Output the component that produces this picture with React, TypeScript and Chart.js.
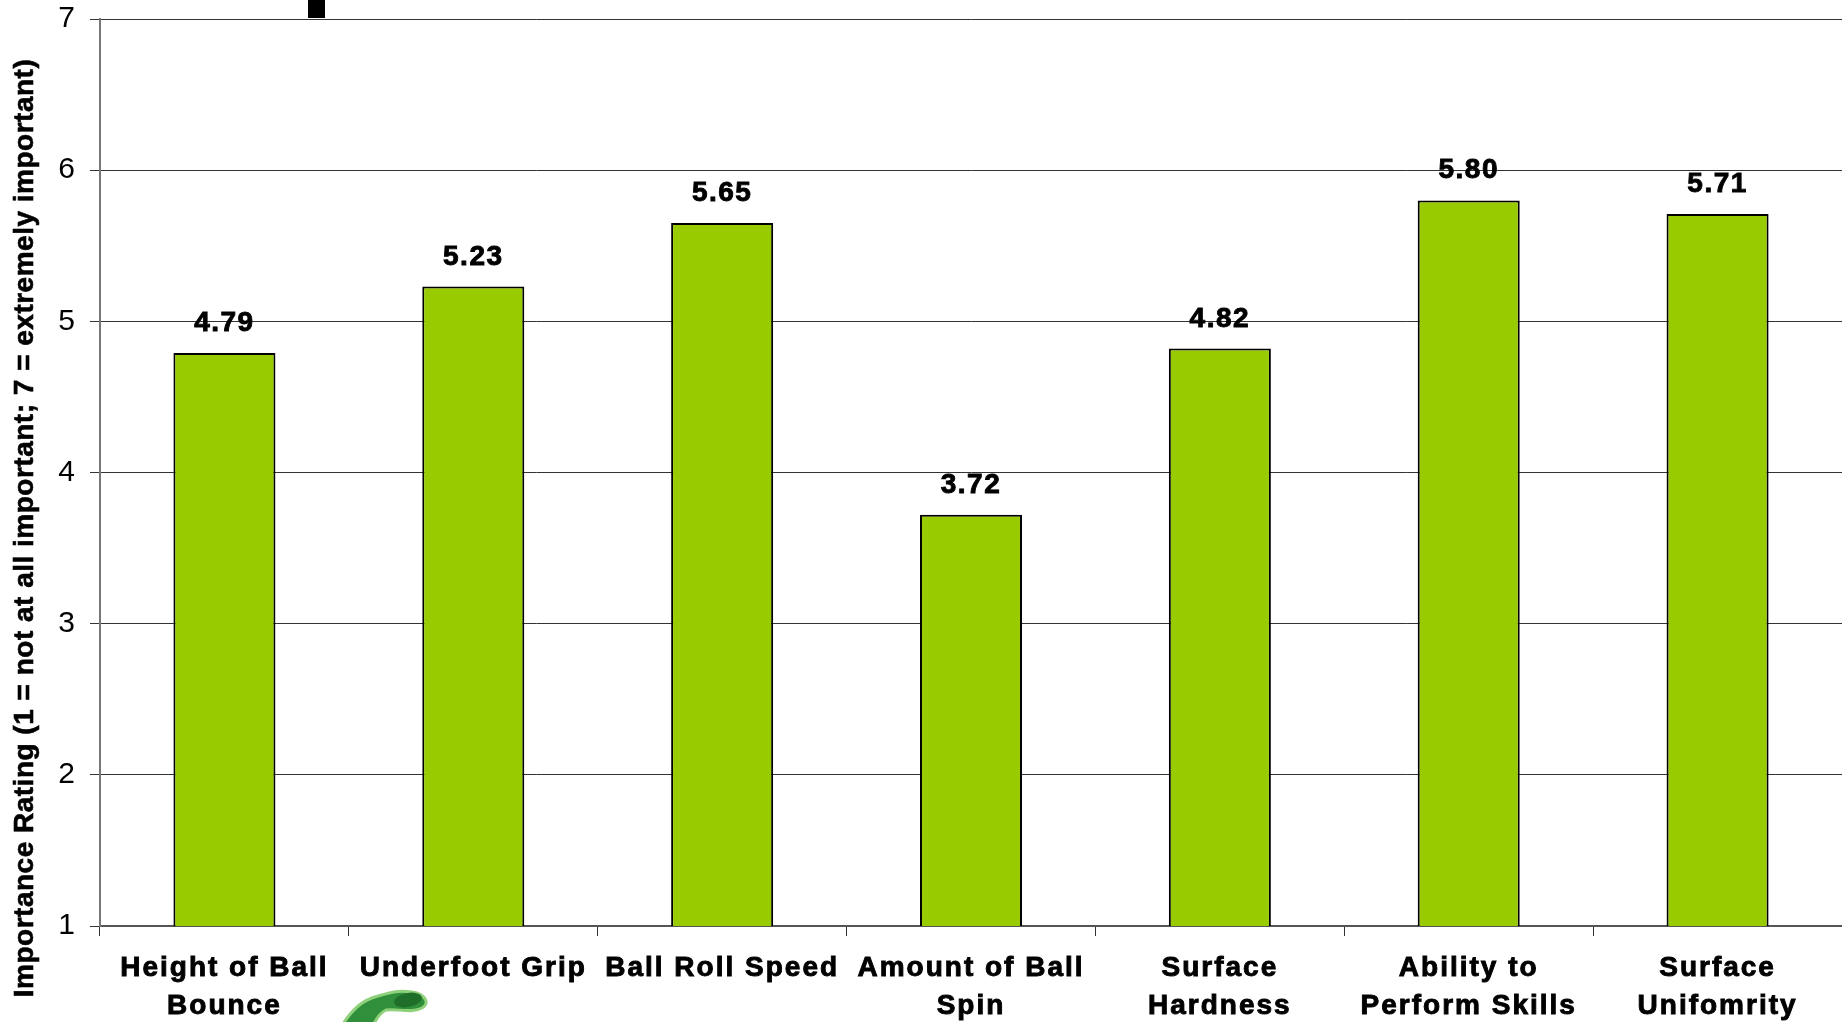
import React, { useEffect, useRef } from "react";
import { Chart, registerables } from "chart.js";

Chart.register(...registerables);

const categories: (string | string[])[] = [
  ["Height of Ball", "Bounce"],
  "Underfoot Grip",
  "Ball Roll Speed",
  ["Amount of Ball", "Spin"],
  ["Surface", "Hardness"],
  ["Ability to", "Perform Skills"],
  ["Surface", "Unifomrity"],
];

const ratings = [4.79, 5.23, 5.65, 3.72, 4.82, 5.8, 5.71];

const yTicks = [1, 2, 3, 4, 5, 6, 7];

const yTitle = "Importance Rating (1 = not at all important; 7 = extremely important)";

const FONT = "'Liberation Sans', Arial, Helvetica, sans-serif";

const W = 1842;
const H = 1022;

const textSpacing = {
  id: "textSpacing",
  beforeDraw(chart: any) {
    const ctx = chart.ctx;
    ctx.letterSpacing = "2px";
  },
};

const valueLabels = {
  id: "valueLabels",
  afterDatasetsDraw(chart: any) {
    const ctx = chart.ctx;
    const meta = chart.getDatasetMeta(0);
    ctx.save();
    ctx.letterSpacing = "1.5px";
    ctx.font = `bold 28px ${FONT}`;
    ctx.fillStyle = "#000";
    ctx.strokeStyle = "#000";
    ctx.lineWidth = 0.9;
    ctx.textAlign = "center";
    ctx.textBaseline = "alphabetic";
    meta.data.forEach((bar: any, i: number) => {
      const t = ratings[i].toFixed(2);
      ctx.fillText(t, bar.x, bar.y - 22);
      ctx.strokeText(t, bar.x, bar.y - 22);
    });
    ctx.restore();
  },
};

const sideTitle = {
  id: "sideTitle",
  afterDraw(chart: any) {
    const ctx = chart.ctx;
    ctx.save();
    ctx.letterSpacing = "0.5px";
    ctx.translate(33, 528);
    ctx.rotate(-Math.PI / 2);
    ctx.font = `bold 28px ${FONT}`;
    ctx.fillStyle = "#000";
    ctx.strokeStyle = "#000";
    ctx.lineWidth = 0.6;
    ctx.textAlign = "center";
    ctx.textBaseline = "alphabetic";
    ctx.fillText(yTitle, 0, 0);
    ctx.strokeText(yTitle, 0, 0);
    ctx.restore();

    // small dark block clipped at the top edge
    ctx.save();
    ctx.fillStyle = "#000";
    ctx.fillRect(308, 0, 17, 18);
    ctx.restore();

    // turf-player emblem peeking in under the first labels
    ctx.save();
    ctx.fillStyle = "#2f8f3a";
    ctx.strokeStyle = "#8fd07a";
    ctx.lineWidth = 3;
    ctx.beginPath();
    ctx.moveTo(343, 1024);
    ctx.bezierCurveTo(352, 1010, 362, 1000, 378, 996);
    ctx.bezierCurveTo(392, 992, 398, 990, 412, 992);
    ctx.bezierCurveTo(426, 994, 430, 1004, 422, 1008);
    ctx.bezierCurveTo(410, 1014, 396, 1008, 386, 1010);
    ctx.bezierCurveTo(378, 1014, 376, 1020, 374, 1024);
    ctx.closePath();
    ctx.fill();
    ctx.stroke();
    ctx.fillStyle = "#1f6f2a";
    ctx.beginPath();
    ctx.ellipse(408, 1000, 14, 7, -0.2, 0, Math.PI * 2);
    ctx.fill();
    ctx.restore();
  },
};

export default function App() {
  const canvasRef = useRef<HTMLCanvasElement | null>(null);

  useEffect(() => {
    if (!canvasRef.current) return;
    const chart = new Chart(canvasRef.current, {
      type: "bar",
      data: {
        labels: categories,
        datasets: [
          {
            data: ratings,
            backgroundColor: "#99CC00",
            borderColor: "#000",
            borderWidth: 2,
            borderSkipped: "bottom",
            barPercentage: 0.41,
            categoryPercentage: 1,
          },
        ],
      },
      options: {
        responsive: false,
        animation: false,
        devicePixelRatio: 1,
        layout: { padding: { top: 19, left: 0, right: -5, bottom: 0 } },
        plugins: {
          legend: { display: false },
          tooltip: { enabled: false },
          title: { display: false },
        },
        scales: {
          x: {
            afterFit(scale: any) {
              scale.height = 96;
              scale.paddingLeft = 0;
              scale.paddingRight = 0;
            },
            grid: {
              offset: true,
              drawOnChartArea: false,
              drawTicks: true,
              tickLength: 10,
              color: "#333",
              lineWidth: 1,
            },
            border: { color: "#555", width: 2 },
            ticks: {
              autoSkip: false,
              maxRotation: 0,
              minRotation: 0,
              padding: 13,
              color: "#000",
              textStrokeColor: "#000",
              textStrokeWidth: 0.9,
              font: { family: FONT, size: 28, weight: "bold", lineHeight: 1.357 },
            },
          },
          y: {
            min: 1,
            max: 7,
            afterFit(scale: any) {
              scale.width = 100;
              scale.paddingTop = 0;
              scale.paddingBottom = 0;
            },
            afterBuildTicks(scale: any) {
              scale.ticks = yTicks.map((v) => ({ value: v }));
            },
            grid: {
              color: "#333",
              lineWidth: 1,
              drawTicks: true,
              tickLength: 10,
            },
            border: { color: "#777", width: 2 },
            ticks: {
              padding: 13,
              color: "#000",
              font: { family: FONT, size: 30, weight: "normal" },
            },
          },
        },
      },
      plugins: [textSpacing, valueLabels, sideTitle],
    });
    return () => chart.destroy();
  }, []);

  return (
    <div style={{ position: "absolute", left: 0, top: 0, width: W, height: H, background: "#fff" }}>
      <canvas ref={canvasRef} width={W} height={H} style={{ display: "block", width: W, height: H }} />
    </div>
  );
}
